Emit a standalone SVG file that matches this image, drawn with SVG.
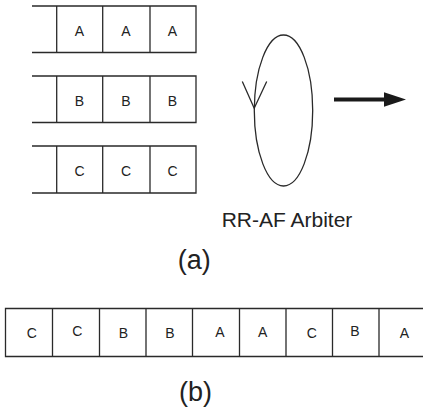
<svg xmlns="http://www.w3.org/2000/svg" width="423" height="411" viewBox="0 0 423 411">
  <style>
    .ln { fill: none; stroke: #2a2a2a; stroke-width: 1.3; }
    .cell { font-family: "Liberation Sans", Arial, sans-serif; font-size: 14px; fill: #222; text-anchor: middle; }
    .cap { font-family: "Liberation Sans", Arial, sans-serif; fill: #222; text-anchor: middle; }
  </style>
  <rect width="423" height="411" fill="#ffffff"/>

  <!-- Queue A -->
  <g id="queueA">
    <path class="ln" d="M32 6 H196 V52.5 H32 M56.7 6 V52.5 M102.7 6 V52.5 M150 6 V52.5"/>
    <text class="cell" x="79.5" y="35.5">A</text>
    <text class="cell" x="126" y="35.5">A</text>
    <text class="cell" x="172.5" y="35.5">A</text>
  </g>

  <!-- Queue B -->
  <g id="queueB">
    <path class="ln" d="M32 76 H196 V122.5 H32 M56.7 76 V122.5 M102.7 76 V122.5 M150 76 V122.5"/>
    <text class="cell" x="79.5" y="105.5">B</text>
    <text class="cell" x="126" y="105.5">B</text>
    <text class="cell" x="172.5" y="105.5">B</text>
  </g>

  <!-- Queue C -->
  <g id="queueC">
    <path class="ln" d="M32 146 H196 V193 H32 M56.7 146 V193 M102.7 146 V193 M150 146 V193"/>
    <text class="cell" x="79.5" y="175.5">C</text>
    <text class="cell" x="126" y="175.5">C</text>
    <text class="cell" x="172.5" y="175.5">C</text>
  </g>

  <!-- Round-robin arbiter -->
  <g id="arbiter">
    <ellipse class="ln" cx="283.5" cy="110.5" rx="29.2" ry="75.5"/>
    <path class="ln" d="M242.3 81.5 L254.2 108.3 L266.7 81.5"/>
    <text class="cap" x="287" y="227" font-size="21">RR-AF Arbiter</text>
  </g>

  <!-- Output arrow -->
  <g id="connectors">
    <line x1="334" y1="99.5" x2="388" y2="99.5" stroke="#1a1a1a" stroke-width="4"/>
    <polygon points="384,92.3 406,99.5 384,106.7" fill="#1a1a1a"/>
  </g>

  <text class="cap" x="194.2" y="268.5" font-size="27">(a)</text>

  <!-- Serialized output sequence -->
  <g id="sequence">
    <path class="ln" d="M423 308.5 H5.5 V356.5 H423 M52.5 308.5 V356.5 M99.5 308.5 V356.5 M146 308.5 V356.5 M192.5 308.5 V356.5 M239.5 308.5 V356.5 M286 308.5 V356.5 M332.5 308.5 V356.5 M379 308.5 V356.5"/>
    <text class="cell" x="31.7" y="338">C</text>
    <text class="cell" x="77.3" y="336">C</text>
    <text class="cell" x="123.3" y="338">B</text>
    <text class="cell" x="170" y="338">B</text>
    <text class="cell" x="220" y="337">A</text>
    <text class="cell" x="262.7" y="337">A</text>
    <text class="cell" x="311.7" y="338">C</text>
    <text class="cell" x="355" y="336">B</text>
    <text class="cell" x="404.3" y="338">A</text>
  </g>

  <text class="cap" x="195.5" y="401" font-size="27">(b)</text>
</svg>
